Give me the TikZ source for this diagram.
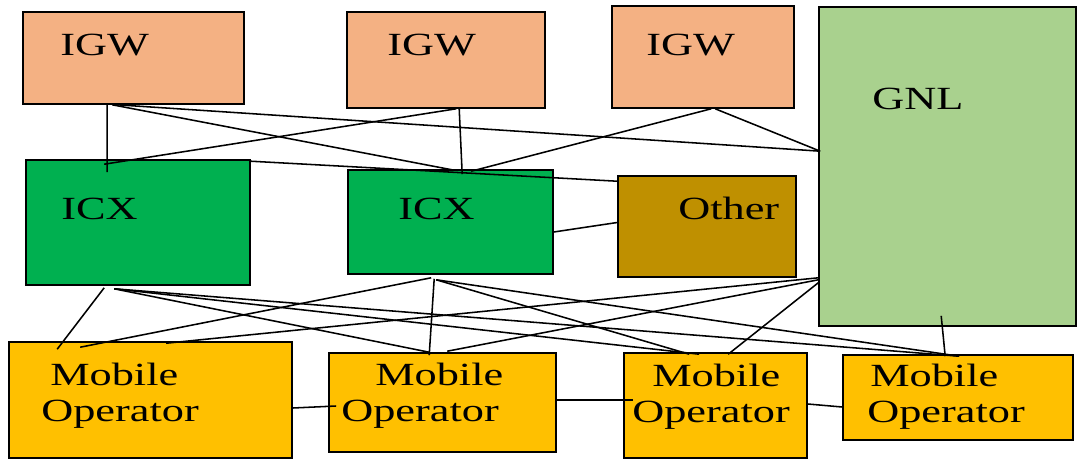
\documentclass[tikz,border=0pt]{standalone}
\usepackage{fontspec}
\setmainfont{Liberation Serif}[FakeStretch=1.37]
\usetikzlibrary{calc}
\definecolor{igwpeach}{HTML}{F4B183}
\definecolor{icxgreen}{HTML}{00B050}
\definecolor{gnlgreen}{HTML}{A9D18E}
\definecolor{otherbrown}{HTML}{BF9000}
\definecolor{mobileyellow}{HTML}{FFC000}
\tikzset{
	defaultbox/.style={
			rectangle,
			draw=black,
			line width=1.1pt,
			inner sep=0pt
		},
	igwnode/.style={
			defaultbox,
			fill=igwpeach
		},
	icxnode/.style={
			defaultbox,
			fill=icxgreen
		},
	gnlnode/.style={
			defaultbox,
			fill=gnlgreen
		},
	othernode/.style={
			defaultbox,
			fill=otherbrown
		},
	mobilenode/.style={
			defaultbox,
			fill=mobileyellow
		},
	txtnode/.style={
			anchor=base west,
			inner sep=0pt,
			font=\fontsize{23}{24}\selectfont
		},
	wire/.style={
			draw=black,
			line width=1.1pt
		}
}
\begin{document}
\begin{tikzpicture}[x=0.025cm, y=-0.025cm]
\useasboundingbox (0,0) rectangle (1078,460);

% boxes
\node[igwnode, minimum width=5.525cm, minimum height=2.3cm] (igwA) at (133.5,58) {};
\node[igwnode, minimum width=4.95cm, minimum height=2.4cm] (igwB) at (446,60) {};
\node[igwnode, minimum width=4.55cm, minimum height=2.55cm] (igwC) at (703,57) {};
\node[gnlnode, minimum width=6.425cm, minimum height=7.975cm] (gnl) at (947.5,166.5) {};
\node[icxnode, minimum width=5.6cm, minimum height=3.125cm] (icxA) at (138,222.5) {};
\node[icxnode, minimum width=5.125cm, minimum height=2.6cm] (icxB) at (450.5,222) {};
\node[othernode, minimum width=4.45cm, minimum height=2.525cm] (other) at (707,226.5) {};
\node[mobilenode, minimum width=7.075cm, minimum height=2.9cm] (moA) at (150.5,400) {};
\node[mobilenode, minimum width=5.675cm, minimum height=2.475cm] (moB) at (442.5,402.5) {};
\node[mobilenode, minimum width=4.575cm, minimum height=2.625cm] (moC) at (715.5,405.5) {};
\node[mobilenode, minimum width=5.75cm, minimum height=2.125cm] (moD) at (958,397.5) {};

% labels
\node[txtnode] (tIGWa) at (60,55) {IGW};
\node[txtnode] (tIGWb) at (387,55) {IGW};
\node[txtnode] (tIGWc) at (646,55) {IGW};
\node[txtnode] (tGNL) at (872,109) {GNL};
\node[txtnode] (tICXa) at (61,219) {ICX};
\node[txtnode] (tICXb) at (398,219) {ICX};
\node[txtnode] (tOther) at (678,219) {Other};
\node[txtnode] (tMobA) at (50,385) {Mobile};
\node[txtnode] (tOpA) at (41,421) {Operator};
\node[txtnode] (tMobB) at (375,385) {Mobile};
\node[txtnode] (tOpB) at (341,421) {Operator};
\node[txtnode] (tMobC) at (652,386) {Mobile};
\node[txtnode] (tOpC) at (632,422) {Operator};
\node[txtnode] (tMobD) at (870,386) {Mobile};
\node[txtnode] (tOpD) at (867,422) {Operator};

% IGW to ICX and GNL
\draw[wire] ($(igwA.south west)+(85,0)$) -- ($(icxA.north west)+(82,13)$);
\draw[wire] ($(igwA.south west)+(90,0)$) -- ($(icxB.north west)+(107,1)$);
\draw[wire] ($(igwA.south west)+(95,0)$) -- ($(gnl.north west)+(2,145)$);
\draw[wire] ($(igwB.south west)+(110,0)$) -- ($(icxA.north west)+(79,5)$);
\draw[wire] ($(igwB.south west)+(113,0)$) -- ($(icxB.north west)+(115,5)$);
\draw[wire] ($(igwC.south west)+(100,0)$) -- ($(icxB.north west)+(124,2)$);
\draw[wire] ($(igwC.south west)+(104,0)$) -- ($(gnl.north west)+(2,145)$);

% ICX to Other
\draw[wire] ($(icxA.north east)+(0,2)$) -- ($(other.north west)+(0,6)$);
\draw[wire] ($(icxB.east)+(0,10)$) -- ($(other.west)+(0,-4)$);

% ICX and GNL to mobile operators
\draw[wire] ($(icxA.south west)+(79,2)$) -- ($(moA.north west)+(49,8)$);
\draw[wire] ($(icxA.south west)+(89,3)$) -- ($(moB.north west)+(101,0)$);
\draw[wire] ($(icxA.south west)+(89,3)$) -- ($(moC.north west)+(76,2)$);
\draw[wire] ($(icxA.south west)+(89,3)$) -- ($(moD.north west)+(117,2)$);
\draw[wire] ($(icxB.south west)+(84,3)$) -- ($(moA.north west)+(72,6)$);
\draw[wire] ($(icxB.south west)+(87,4)$) -- ($(moB.north west)+(101,3)$);
\draw[wire] ($(icxB.south west)+(89,5)$) -- ($(moC.north west)+(66,2)$);
\draw[wire] ($(icxB.south west)+(89,5)$) -- ($(moD.north west)+(117,2)$);
\draw[wire] ($(gnl.south west)+(0,-49)$) -- ($(moA.north west)+(158,2)$);
\draw[wire] ($(gnl.south west)+(0,-47)$) -- ($(moB.north west)+(119,-1)$);
\draw[wire] ($(gnl.south west)+(0,-44)$) -- ($(moC.north west)+(105,2)$);
\draw[wire] ($(gnl.south west)+(123,-11)$) -- ($(moD.north west)+(103,2)$);

% mobile operator chain
\draw[wire] ($(moA.east)+(0,8)$) -- ($(moB.west)+(8,3.5)$);
\draw[wire] ($(moB.east)+(0,-2.5)$) -- ($(moC.west)+(10,-5.5)$);
\draw[wire] ($(moC.east)+(0,-1.5)$) -- ($(moD.west)+(0,9.5)$);

\end{tikzpicture}
\end{document}
